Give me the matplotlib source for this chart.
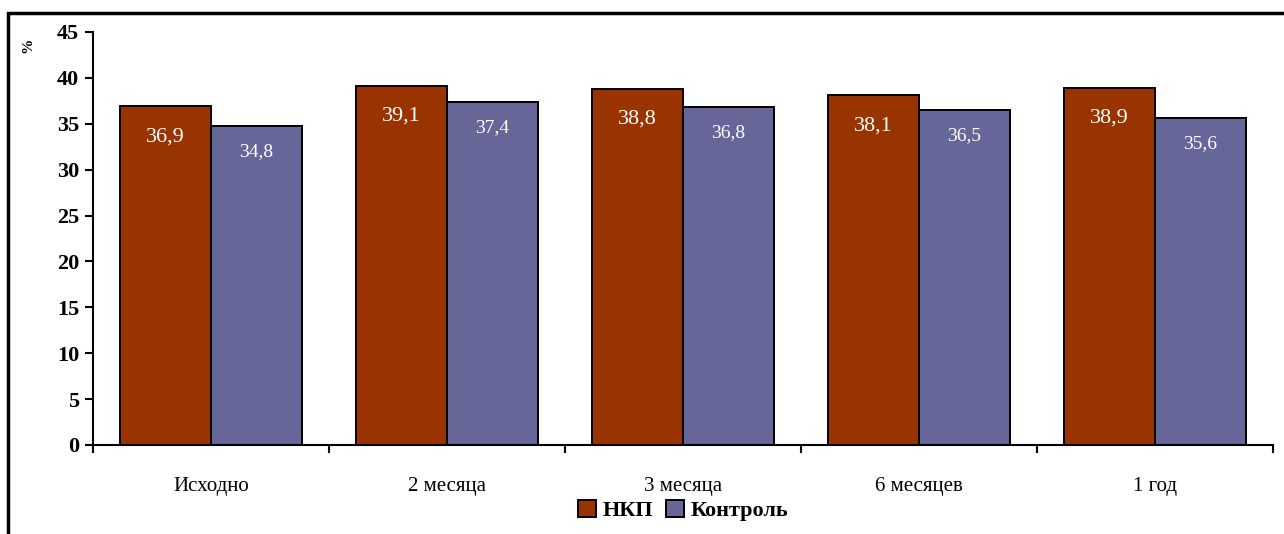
#Bar chart: НКП vs Контроль over time
import matplotlib.pyplot as plt
from matplotlib.patches import Rectangle
import numpy as np

categories = ['Исходно', '2 месяца', '3 месяца', '6 месяцев', '1 год']
nkp = [36.9, 39.1, 38.8, 38.1, 38.9]
control = [34.8, 37.4, 36.8, 36.5, 35.6]
nkp_labels = ['36,9', '39,1', '38,8', '38,1', '38,9']
control_labels = ['34,8', '37,4', '36,8', '36,5', '35,6']

plt.rcParams['font.family'] = 'Liberation Serif'

fig = plt.figure(figsize=(12.84, 5.34), dpi=100)
ax = fig.add_axes([93/1284, 1 - 445/534, 1180/1284, 413/534])

x = np.arange(len(categories))
w = 0.385
ax.bar(x - w/2, nkp, w, color='#993300', edgecolor='black', linewidth=1.4, label='НКП')
ax.bar(x + w/2, control, w, color='#666699', edgecolor='black', linewidth=1.4, label='Контроль')

for i in range(len(x)):
    ax.text(x[i] - w/2, nkp[i] - 3.3, nkp_labels[i], ha='center', va='center',
            color='white', fontsize=16)
    ax.text(x[i] + w/2, control[i] - 2.8, control_labels[i], ha='center', va='center',
            color='white', fontsize=14)

ax.set_xlim(-0.5, len(x) - 0.5)
ax.set_ylim(0, 45)
ax.set_yticks(range(0, 46, 5))
ax.set_yticklabels([str(v) for v in range(0, 46, 5)], fontsize=16, fontweight='bold')
ax.set_xticks(np.arange(-0.5, len(x), 1))
ax.set_xticklabels([])
ax.set_xticks(x, minor=True)
ax.set_xticklabels(categories, minor=True, fontsize=15)
ax.tick_params(axis='x', which='minor', length=0, pad=23)
ax.tick_params(axis='x', which='major', length=6, width=1.5, direction='out')
ax.tick_params(axis='y', length=6, width=1.5, direction='out', pad=4)
ax.spines['top'].set_visible(False)
ax.spines['right'].set_visible(False)
ax.spines['left'].set_linewidth(1.5)
ax.spines['bottom'].set_linewidth(1.5)

fig.text(28/1284, 1 - 45/534, '%', rotation=90, fontsize=11, fontweight='bold',
         ha='center', va='center')

ax.legend(loc='center', bbox_to_anchor=(0.5, -0.158), ncol=2, frameon=False,
          prop={'size': 16, 'weight': 'bold'}, handlelength=0.8, handleheight=0.8,
          handletextpad=0.3, columnspacing=0.6)

# outer frame
fig.add_artist(Rectangle((8/1284, -0.1), 1.2, 1 - 13/534 + 0.1, transform=fig.transFigure,
                         fill=False, edgecolor='black', linewidth=2.5))

fig.savefig('out.png', dpi=100)
